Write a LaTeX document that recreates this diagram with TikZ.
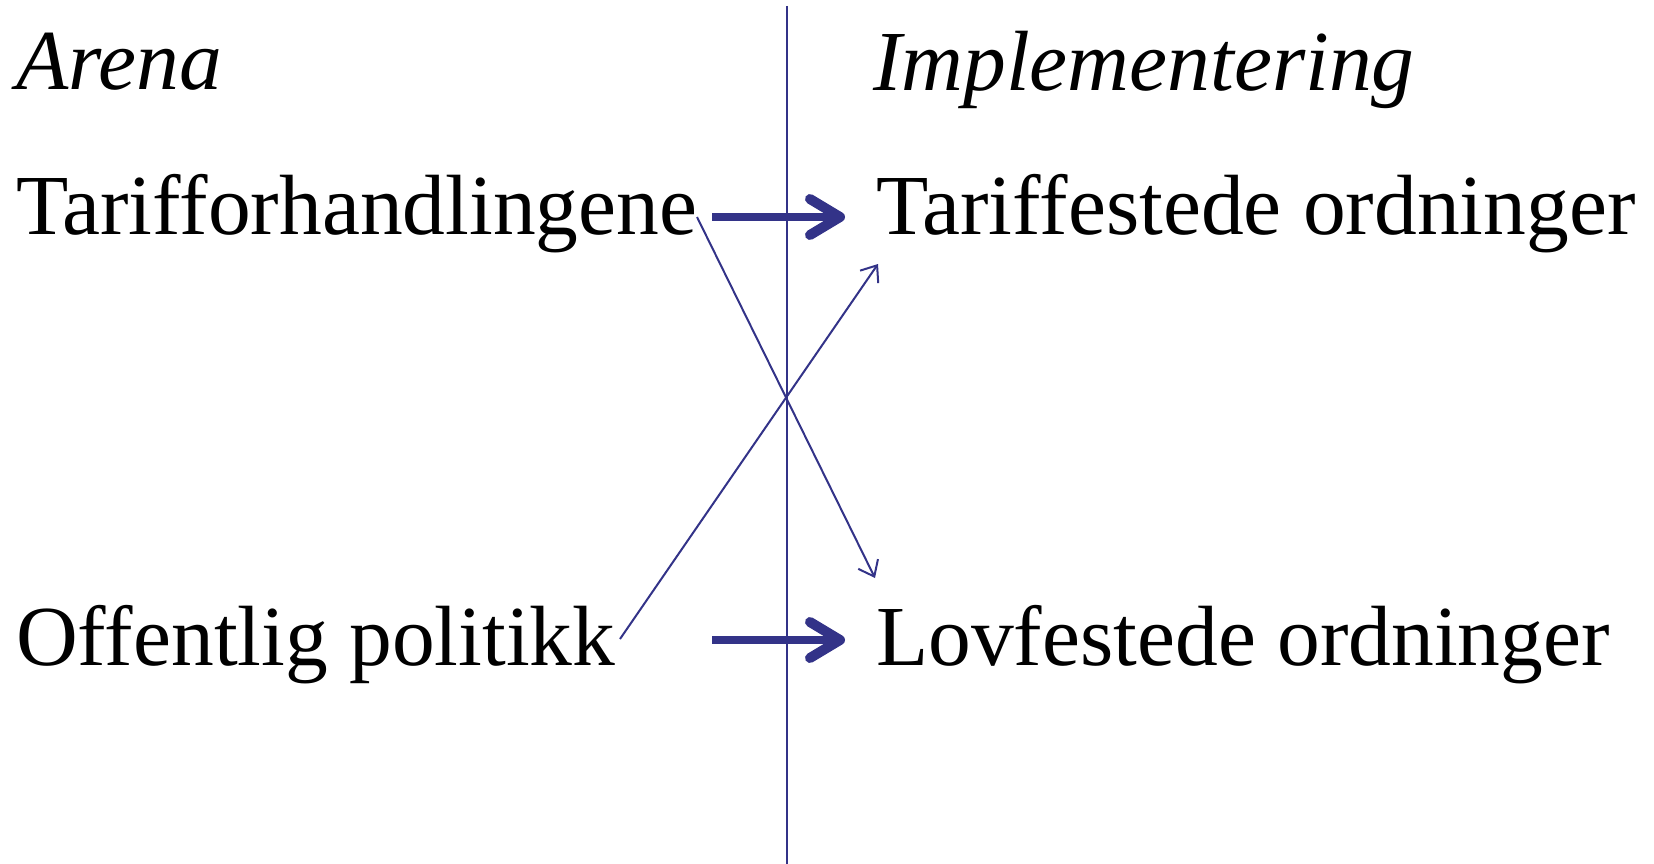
\documentclass[tikz,border=0pt]{standalone}
\usepackage{fontspec}
\setmainfont{Liberation Serif}
\usetikzlibrary{arrows.meta}
\definecolor{navy}{RGB}{51,51,136}
\begin{document}
\begin{tikzpicture}[x=1pt,y=-1pt,
  lbl/.style={anchor=base west,inner sep=0pt,font=\fontsize{85.5}{100}\selectfont},
  thick arrow/.style={draw=navy,line width=8pt,-{Straight Barb[length=30pt,width=36pt,round,line width=10pt]}},
  thin arrow/.style={draw=navy,line width=2pt,-{Straight Barb[length=14pt,width=22pt]}}]
\useasboundingbox (0,0) rectangle (1654,864);
\node[lbl] (arena) at (16,90) {\itshape Arena};
\node[lbl] (impl) at (873,91) {\itshape Implementering};
\node[lbl] (tarif) at (16,234) {Tarifforhandlingene};
\node[lbl] (tfest) at (876,234) {Tariffestede ordninger};
\node[lbl] (off) at (16,665) {Offentlig politikk};
\node[lbl] (lov) at (876,665) {Lovfestede ordninger};
\coordinate (vtop) at (787,6);
\coordinate (vbot) at (787,864);
\draw[navy,line width=2pt] (vtop) -- (vbot);
\coordinate (a1s) at (712,217);
\coordinate (a1e) at (845,217);
\coordinate (a2s) at (712,640);
\coordinate (a2e) at (845,640);
\draw[thick arrow] (a1s) -- (a1e);
\draw[thick arrow] (a2s) -- (a2e);
\coordinate (b1s) at (697,217);
\coordinate (b1e) at (875,578);
\coordinate (b2s) at (620,639);
\coordinate (b2e) at (878,264);
\draw[thin arrow] (b1s) -- (b1e);
\draw[thin arrow] (b2s) -- (b2e);
\end{tikzpicture}
\end{document}
